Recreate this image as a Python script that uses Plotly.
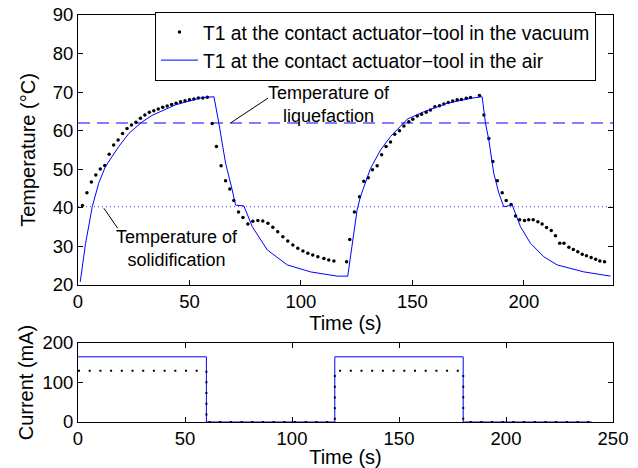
import plotly.graph_objects as go

# ---------------- data ----------------
# Temperature, air (blue line)
air_t = [1, 3.4, 6.4, 9.3, 12.3, 18.3, 22.8, 28.8, 33.3, 43.7, 55.6, 61.0, 63.2, 66.2, 69.2, 70.7, 74.4,
         78.2, 84.9, 93.9, 104.3, 116.3, 121.0, 125.2, 126.7, 131.2, 135.7, 140.2, 147.7, 155.1, 165.6,
         176.1, 181.3, 182.8, 184.3, 186.5, 188.8, 191.0, 194.8, 198.5, 203.0, 209.0, 215.0, 226.9, 238.9]
air_T = [20.8, 30.8, 40.3, 46.4, 50.7, 55.9, 59.3, 62.3, 64.0, 66.7, 68.6, 68.8, 61.9, 51.6, 44.6, 40.7, 40.5,
         35.1, 29.1, 25.2, 23.4, 22.3, 22.3, 39.4, 42.9, 50.2, 55.0, 58.5, 63.0, 64.9, 67.1,
         68.4, 68.8, 61.9, 57.6, 49.0, 43.8, 40.3, 40.7, 35.1, 30.8, 27.3, 25.2, 23.4, 22.3]

# Temperature, vacuum (black dots)
vac_t = [2, 4, 6, 8, 10, 12, 14, 16, 18, 20, 22, 24, 26, 28, 30, 32, 34, 36, 38, 40, 42, 44, 46, 48, 50,
         52, 54, 56, 58,
         60.2, 62.1, 64.2, 66.2, 68.1, 69.9, 72.0, 74.0, 76.2, 78.4, 80.7, 82.9, 85.2, 87.4, 89.6, 91.9,
         94.1, 96.4, 98.6, 100.9, 103.1, 105.3, 107.6, 110.3, 112.5, 114.8, 120.5,
         121.9, 124.0, 126.3, 128.2, 130.2, 132.1, 134.2, 136.2, 138.2, 140.2, 142.1, 144.2, 146.2, 148.4,
         150.2, 152.2, 154.1, 156.2, 158.1, 160.1, 162.2, 164.1, 166.1, 168.1, 170.1, 172.0, 174.2, 176.1,
         180.1, 182.1, 184.3, 186.1, 188.1, 190.3, 192.1, 194.3, 196.3, 198.1, 200.3, 202.2, 204.2, 206.3,
         208.2, 210.2, 212.3, 214.2, 216.1, 218.0, 220.2, 222.2, 224.2, 226.2, 228.1, 230.2, 232.2, 234.1,
         236.2]
vac_T = [40.6, 43.9, 46.7, 48.5, 50.1, 51.0, 53.9, 56.3, 57.6, 59.3, 60.6, 61.5, 62.2, 63.2, 64.1, 64.8,
         65.2, 65.6, 66.1, 66.4, 66.8, 67.1, 67.5, 67.8, 68.0, 68.2, 68.5, 68.5, 68.7,
         61.9, 55.9, 50.9, 47.0, 44.9, 41.9, 38.9, 37.5, 35.8, 36.5, 36.7, 36.6, 36.0, 35.0, 33.8, 32.5,
         31.4, 30.4, 29.5, 28.8, 28.2, 27.8, 27.3, 26.9, 26.5, 26.2, 26.0,
         31.8, 38.9, 42.9, 46.9, 47.8, 49.9, 50.9, 53.8, 55.9, 57.1, 59.1, 60.0, 61.2, 62.3,
         63.0, 63.8, 64.3, 64.8, 65.4, 66.2, 66.5, 66.9, 67.3, 67.7, 68.0, 68.1, 68.4, 68.6,
         69.1, 64.1, 58.0, 52.0, 47.0, 43.9, 41.9, 40.9, 37.9, 36.9, 36.7, 36.9, 36.9, 36.4,
         35.8, 34.9, 34.1, 32.8, 30.8, 30.8, 29.8, 29.2, 28.6, 28.0, 27.6, 27.1, 26.7, 26.2,
         26.0]

# Reference temperatures
T_liquefaction = 62.0
T_solidification = 40.3
ref_t = [0, 240]

# Current
cur_t = [0, 60, 60, 120, 120, 180, 180, 240]
cur_air = [165, 165, 0, 0, 165, 165, 0, 0]
cur_vac = [130, 130, 0, 0, 130, 130, 0, 0]

leg_vac = "T1 at the contact actuator\u2212tool in the vacuum"
leg_air = "T1 at the contact actuator\u2212tool in the air"

FONT = "Liberation Sans, Arial, Helvetica, sans-serif"
BLUE = "#0000ff"
TICK = 18.5
TITLE = 20

fig = go.Figure()

fig.add_trace(go.Scatter(x=ref_t, y=[T_liquefaction] * 2, mode="lines",
                         line=dict(color=BLUE, width=1, dash="12px,7px"),
                         showlegend=False, hoverinfo="skip", xaxis="x", yaxis="y"))
fig.add_trace(go.Scatter(x=ref_t, y=[T_solidification] * 2, mode="lines",
                         line=dict(color="#3c3cff", width=1, dash="1px,3px"),
                         showlegend=False, hoverinfo="skip", xaxis="x", yaxis="y"))

fig.add_trace(go.Scatter(x=vac_t, y=vac_T, mode="markers", name=leg_vac,
                         marker=dict(color="black", size=3.5), xaxis="x", yaxis="y"))
fig.add_trace(go.Scatter(x=air_t, y=air_T, mode="lines", name=leg_air,
                         line=dict(color=BLUE, width=1), xaxis="x", yaxis="y"))

fig.add_trace(go.Scatter(x=cur_t, y=cur_air, mode="lines", showlegend=False,
                         line=dict(color=BLUE, width=1), xaxis="x2", yaxis="y2"))
fig.add_trace(go.Scatter(x=cur_t, y=cur_vac, mode="lines", showlegend=False,
                         line=dict(color="black", width=2, dash="2px,8.7px"), xaxis="x2", yaxis="y2"))

axis_common = dict(showline=True, linecolor="black", linewidth=1, mirror="ticks",
                   ticks="inside", ticklen=5, tickcolor="black", showgrid=False,
                   zeroline=False, automargin=False,
                   tickfont=dict(size=TICK, color="black", family=FONT),
                   title_font=dict(size=TITLE, color="black", family=FONT))

fig.update_layout(
    width=638, height=468,
    margin=dict(l=78, r=25, t=15, b=46),
    paper_bgcolor="white", plot_bgcolor="white",
    font=dict(family=FONT, size=TICK, color="black"),
    xaxis=dict(axis_common, range=[0, 240], tickvals=[0, 50, 100, 150, 200], anchor="y",
               title=dict(text="Time (s)", standoff=2)),
    yaxis=dict(axis_common, range=[20, 90], dtick=10, domain=[0.3366, 1], anchor="x",
               title=dict(text="Temperature (\u00b0C)", standoff=11)),
    xaxis2=dict(axis_common, range=[0, 250], dtick=50, anchor="y2",
                title=dict(text="Time (s)", standoff=4)),
    yaxis2=dict(axis_common, range=[0, 200], dtick=100, domain=[0, 0.1941], anchor="x2",
                title=dict(text="Current (mA)", standoff=3)),
    legend=dict(x=0.1439, y=1.0074, xanchor="left", yanchor="top",
                bgcolor="white", bordercolor="black", borderwidth=1, itemwidth=37,
                font=dict(size=19.3, family=FONT, color="black"), tracegroupgap=0),
    showlegend=True,
)

fig.add_annotation(x=112.4, y=66.9, xref="x", yref="y", text="Temperature of<br>liquefaction",
                   showarrow=False, font=dict(size=18, family=FONT, color="black"))
fig.add_annotation(x=68.4, y=T_liquefaction, ax=85.9, ay=68.7, xref="x", yref="y",
                   axref="x", ayref="y", text="", showarrow=True, arrowhead=0,
                   arrowwidth=1, arrowcolor="black")
fig.add_annotation(x=44.4, y=29.4, xref="x", yref="y", text="Temperature of<br>solidification",
                   showarrow=False, font=dict(size=18, family=FONT, color="black"))
fig.add_annotation(x=11.6, y=39.9, ax=18.3, ay=34.3, xref="x", yref="y",
                   axref="x", ayref="y", text="", showarrow=True, arrowhead=0,
                   arrowwidth=1, arrowcolor="black")

fig.write_html("out.html")
